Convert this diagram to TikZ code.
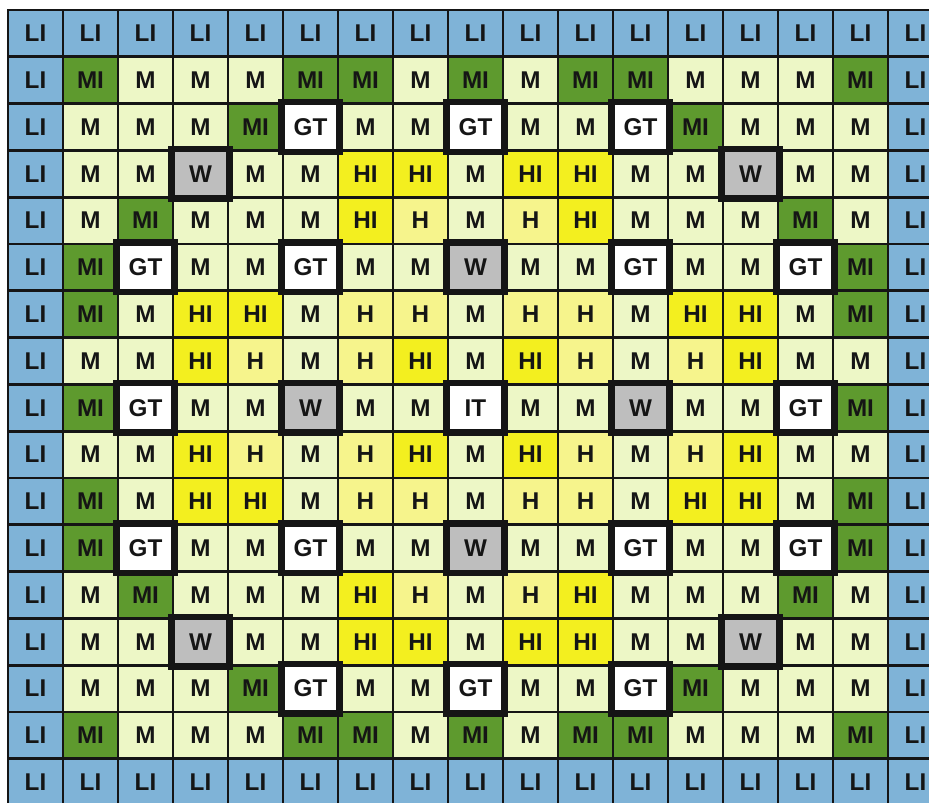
\documentclass[tikz,border=0pt]{standalone}
\usepackage{fontspec}
\setmainfont{Liberation Sans}
\usepackage{tikz}
\usetikzlibrary{positioning}
\definecolor{liblue}{HTML}{7FB3D7}
\definecolor{migreen}{HTML}{5E9A2E}
\definecolor{mpale}{HTML}{EDF7C6}
\definecolor{hiyellow}{HTML}{F3EF1F}
\definecolor{hyellow}{HTML}{F6F48C}
\definecolor{wgray}{HTML}{BEBEBE}
\definecolor{gridline}{HTML}{151515}

\begin{document}
\begin{tikzpicture}[
    cell/.style={draw=gridline, line width=1.6pt, minimum width=\w cm, minimum height=\h cm,
      inner sep=0pt, font=\fontsize{13.8}{14}\selectfont\bfseries, text=gridline},
    cellLI/.style={cell, fill=liblue},
    cellMI/.style={cell, fill=migreen},
    cellM/.style={cell, fill=mpale},
    cellHI/.style={cell, fill=hiyellow},
    cellH/.style={cell, fill=hyellow},
    cellW/.style={cell, fill=wgray},
    cellGT/.style={cell, fill=white},
    cellIT/.style={cell, fill=white},
    frame/.style={draw=gridline, line width=3.6pt}
  ]
  \def\w{1.1}
  \def\h{0.936}
  \def\xo{0.16}
  \def\yo{15.84}
  \useasboundingbox (0,0) rectangle (18.58,16.04);
  \fill[white] (0,0) rectangle (18.58,16.04);
  \clip (0,0) rectangle (18.58,16.04);
  % core map, row by row
  \foreach \cells [count=\rw from 0] in {
    {LI,LI,LI,LI,LI,LI,LI,LI,LI,LI,LI,LI,LI,LI,LI,LI,LI},
    {LI,MI,M,M,M,MI,MI,M,MI,M,MI,MI,M,M,M,MI,LI},
    {LI,M,M,M,MI,GT,M,M,GT,M,M,GT,MI,M,M,M,LI},
    {LI,M,M,W,M,M,HI,HI,M,HI,HI,M,M,W,M,M,LI},
    {LI,M,MI,M,M,M,HI,H,M,H,HI,M,M,M,MI,M,LI},
    {LI,MI,GT,M,M,GT,M,M,W,M,M,GT,M,M,GT,MI,LI},
    {LI,MI,M,HI,HI,M,H,H,M,H,H,M,HI,HI,M,MI,LI},
    {LI,M,M,HI,H,M,H,HI,M,HI,H,M,H,HI,M,M,LI},
    {LI,MI,GT,M,M,W,M,M,IT,M,M,W,M,M,GT,MI,LI},
    {LI,M,M,HI,H,M,H,HI,M,HI,H,M,H,HI,M,M,LI},
    {LI,MI,M,HI,HI,M,H,H,M,H,H,M,HI,HI,M,MI,LI},
    {LI,MI,GT,M,M,GT,M,M,W,M,M,GT,M,M,GT,MI,LI},
    {LI,M,MI,M,M,M,HI,H,M,H,HI,M,M,M,MI,M,LI},
    {LI,M,M,W,M,M,HI,HI,M,HI,HI,M,M,W,M,M,LI},
    {LI,M,M,M,MI,GT,M,M,GT,M,M,GT,MI,M,M,M,LI},
    {LI,MI,M,M,M,MI,MI,M,MI,M,MI,MI,M,M,M,MI,LI},
    {LI,LI,LI,LI,LI,LI,LI,LI,LI,LI,LI,LI,LI,LI,LI,LI,LI}}{
    \foreach \t [count=\cl from 0] in \cells {
      \node[cell\t] (c\rw-\cl) at ({\xo+\w*\cl+\w/2}, {\yo-\h*\rw-\h/2}) {\t};
    }
  }
  % thick frames round guide tubes, water holes and instrument tube
  \foreach \rw/\cl in {2/5,2/8,2/11,3/3,3/13,5/2,5/5,5/8,5/11,5/14,
      8/2,8/5,8/8,8/11,8/14,11/2,11/5,11/8,11/11,11/14,13/3,13/13,14/5,14/8,14/11}
    \draw[frame] (c\rw-\cl.south west) rectangle (c\rw-\cl.north east);
\end{tikzpicture}
\end{document}
